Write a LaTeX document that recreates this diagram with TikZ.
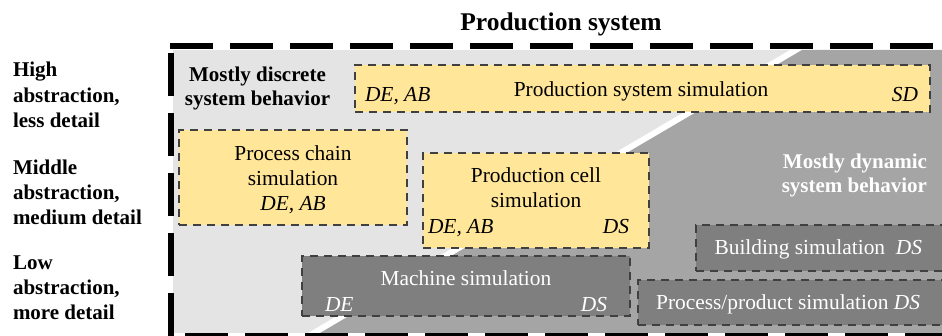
\documentclass[tikz,border=0pt]{standalone}
\usepackage{fontspec}
\setmainfont{Liberation Serif}
\definecolor{lgray}{HTML}{E4E4E4}
\definecolor{dgray}{HTML}{A5A5A5}
\definecolor{boxgray}{HTML}{7F7F7F}
\definecolor{yel}{HTML}{FFE699}
\definecolor{boxline}{HTML}{404040}
\tikzset{
  txt/.style={inner sep=0pt, outer sep=0pt, font=\fontsize{21.4}{25}\selectfont},
  wtxt/.style={txt, text=white},
  bld/.style={inner sep=0pt, outer sep=0pt, font=\fontsize{21}{25}\selectfont\bfseries},
  ttl/.style={inner sep=0pt, outer sep=0pt, font=\fontsize{25.5}{30}\selectfont\bfseries},
  simbox/.style={draw=boxline, line width=2.5pt, dash pattern=on 8pt off 6pt,
    inner sep=0pt, outer sep=0pt, anchor=north west},
  ybox/.style={simbox, fill=yel},
  gbox/.style={simbox, fill=boxgray},
  frame/.style={line width=6pt, dash pattern=on 43pt off 17pt},
}
\begin{document}
\begin{tikzpicture}[x=1pt,y=-1pt]
\useasboundingbox (0,0) rectangle (942,336);
% background regions
\fill[lgray] (173,50) rectangle (942,333);
\fill[white] (790,50) -- (942,50) -- (942,333) -- (308,333) -- cycle;
\fill[dgray] (802,50) -- (942,50) -- (942,333) -- (320,333) -- cycle;
% outer dashed frame
\coordinate (t1) at (170,46); \coordinate (t2) at (933,46);
\coordinate (l1) at (170.5,53); \coordinate (l2) at (170.5,338);
\coordinate (b1) at (185,336); \coordinate (b2) at (942,336);
\draw[frame] (t1) -- (t2);
\draw[frame] (l1) -- (l2);
\draw[frame] (b1) -- (b2);
% title
\node[ttl, anchor=base] (title) at (561,31) {Production system};
% left labels
\node[bld, anchor=base west] (h1) at (13,77) {High};
\node[bld, anchor=base west] (h2) at (13,103) {abstraction,};
\node[bld, anchor=base west] (h3) at (13,128) {less detail};
\node[bld, anchor=base west] (m1) at (13,175) {Middle};
\node[bld, anchor=base west] (m2) at (13,200) {abstraction,};
\node[bld, anchor=base west] (m3) at (13,225) {medium detail};
\node[bld, anchor=base west] (lo1) at (13,270) {Low};
\node[bld, anchor=base west] (lo2) at (13,295) {abstraction,};
\node[bld, anchor=base west] (lo3) at (13,320) {more detail};
% region labels
\node[bld, anchor=base] (md1) at (257.5,82) {Mostly discrete};
\node[bld, anchor=base] (md2) at (257.5,106) {system behavior};
\node[bld, text=white, anchor=base east] (dy1) at (927,169) {Mostly dynamic};
\node[bld, text=white, anchor=base east] (dy2) at (927,193) {system behavior};
% boxes
\node[ybox, minimum width=575pt, minimum height=47pt] (pss) at (355,65) {};
\node[ybox, minimum width=228pt, minimum height=95pt] (pcs) at (179,130) {};
\node[ybox, minimum width=226pt, minimum height=95pt] (pcell) at (423,153) {};
\node[gbox, minimum width=328pt, minimum height=60pt] (ms) at (302,256) {};
\node[gbox, minimum width=250pt, minimum height=46pt] (bs) at (696,225) {};
\node[gbox, minimum width=308pt, minimum height=45pt] (pps) at (638,280) {};
% box texts
\node[txt, anchor=base] (pssT) at (641,97) {Production system simulation};
\node[txt, anchor=base west] (pssA) at (365,102) {\itshape DE, AB};
\node[txt, anchor=base east] (pssB) at (918,102) {\itshape SD};
\node[txt, anchor=base] (pcs1) at (293,161) {Process chain};
\node[txt, anchor=base] (pcs2) at (293,186) {simulation};
\node[txt, anchor=base] (pcs3) at (293,211) {\itshape DE, AB};
\node[txt, anchor=base] (pc1) at (536,183) {Production cell};
\node[txt, anchor=base] (pc2) at (536,208) {simulation};
\node[txt, anchor=base west] (pc3) at (428,234) {\itshape DE, AB};
\node[txt, anchor=base east] (pc4) at (629,234) {\itshape DS};
\node[wtxt, anchor=base] (ms1) at (466,286) {Machine simulation};
\node[wtxt, anchor=base west] (ms2) at (325,312) {\itshape DE};
\node[wtxt, anchor=base east] (ms3) at (607,312) {\itshape DS};
\node[wtxt, anchor=base east] (bs1) at (922,255) {Building simulation\ \ \itshape DS};
\node[wtxt, anchor=base east] (pps1) at (920,310) {Process/product simulation \itshape DS};
\end{tikzpicture}
\end{document}
